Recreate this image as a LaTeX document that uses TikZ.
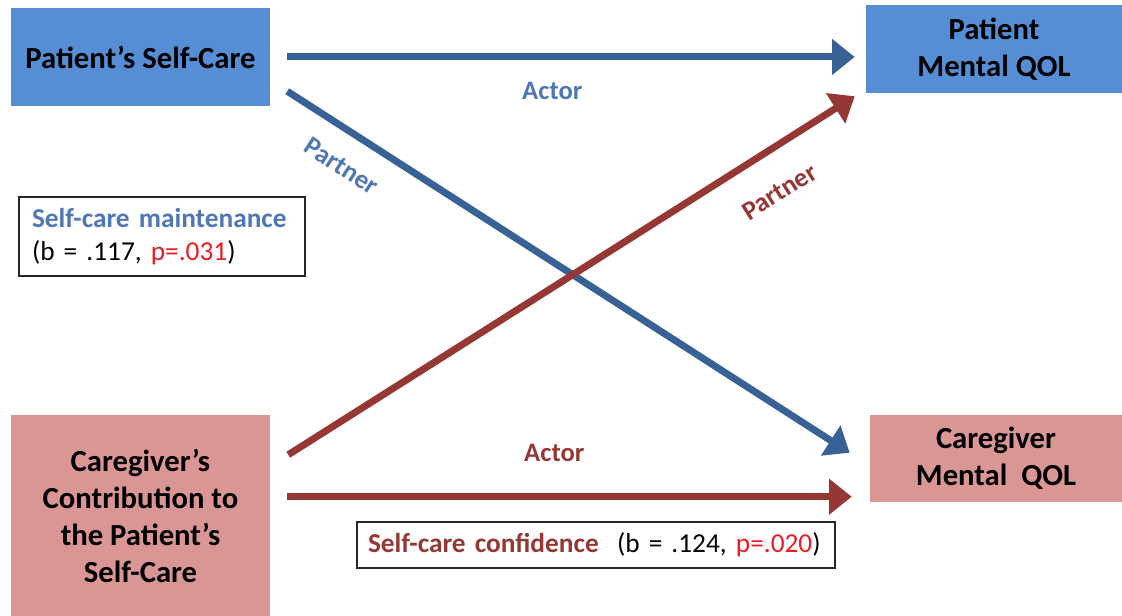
\documentclass[tikz,border=0pt]{standalone}
\usepackage{fontspec}
\setmainfont{Carlito}
\newfontfamily\infofont[WordSpace=0.8]{Carlito}
\usetikzlibrary{arrows.meta}
\usetikzlibrary{positioning}
\usetikzlibrary{calc}

\definecolor{patblue}{RGB}{85,142,213}
\definecolor{arrblue}{RGB}{56,97,150}
\definecolor{txtblue}{RGB}{79,119,181}
\definecolor{cgred}{RGB}{217,150,148}
\definecolor{arrred}{RGB}{149,55,53}
\definecolor{pred}{RGB}{235,28,36}

\begin{document}
\begin{tikzpicture}[
			x=0.75pt, y=0.75pt,
			node distance=640pt,
			box/.style={rectangle, align=center, inner sep=0pt, font=\fontsize{23}{27.75}\selectfont\bfseries},
			patient/.style={box, fill=patblue},
			carer/.style={box, fill=cgred},
			infobox/.style={rectangle, draw=black!85, line width=1pt, align=left, inner xsep=9.75pt, inner ysep=0pt, font=\fontsize{20.5}{24.5}\selectfont\infofont},
			lbl/.style={inner sep=0pt, font=\fontsize{20}{24}\selectfont\bfseries},
			arrow/.style={line width=5.25pt, -{Triangle[length=17pt, width=26pt]}},
			bluearrow/.style={arrow, draw=arrblue},
			redarrow/.style={arrow, draw=arrred},
			]
			
			\useasboundingbox (0,0) rectangle (1122,616);
			
			\node[patient, minimum width=194.25pt, minimum height=73.5pt]   (ps) at (140.5,559)                            {Patient’s Self-Care};
			\node[patient, minimum width=192pt, minimum height=66pt]        (pm) [right of=ps, xshift=0.125pt, yshift=6pt]  {Patient\\Mental QOL};
			\node[carer, minimum width=194.25pt, minimum height=150.75pt]   (cc) at (140.5,100.5)                          {Caregiver’s\\Contribution to\\the Patient’s\\Self-Care};
			\node[carer, minimum width=189pt, minimum height=65.25pt]       (cm) [right of=cc, xshift=1.625pt, yshift=42.75pt] {Caregiver\\Mental~ QOL};
			
			\node[infobox, text width=195pt, minimum height=59.25pt]        (scm) at (162,379.5)   {\textcolor{txtblue}{\bfseries Self-care maintenance}\\(b = .117, \textcolor{pred}{p=.031})};
			\node[infobox, text width=342pt, minimum height=34.5pt, inner xsep=8.25pt] (scc) at (596,71) {\textcolor{arrred}{\bfseries Self-care confidence}~ (b = .124, \textcolor{pred}{p=.020})};
			
			\coordinate (ba) at ($(ps.east)+(17,0)$);
			\coordinate (bp) at ($(ps.south east)+(17,15)$);
			\coordinate (rp) at ($(cc.north east)+(18,-40)$);
			\coordinate (ra) at ($(cc.north east)+(17,-82)$);
			
			\draw [bluearrow] (ba) --node[lbl, pos=0.467, below=16.5pt, text=txtblue]                 {Actor}   ($(ba -| pm.west)+(-11,0)$);
			\draw [bluearrow] (bp) --node[lbl, pos=0.129, sloped, below=16pt, text=txtblue]           {Partner} ($(cm.north west)+(-20,-38)$);
			\draw [redarrow]  (rp) --node[lbl, pos=0.829, sloped, below=21.3pt, text=arrred]          {Partner} ($(pm.south west)+(-11,-3)$);
			\draw [redarrow]  (ra) --node[lbl, pos=0.473, above=23.5pt, text=arrred]                  {Actor}   ($(ra -| cm.west)+(-18,0)$);
			
			\end{tikzpicture}
\end{document}
